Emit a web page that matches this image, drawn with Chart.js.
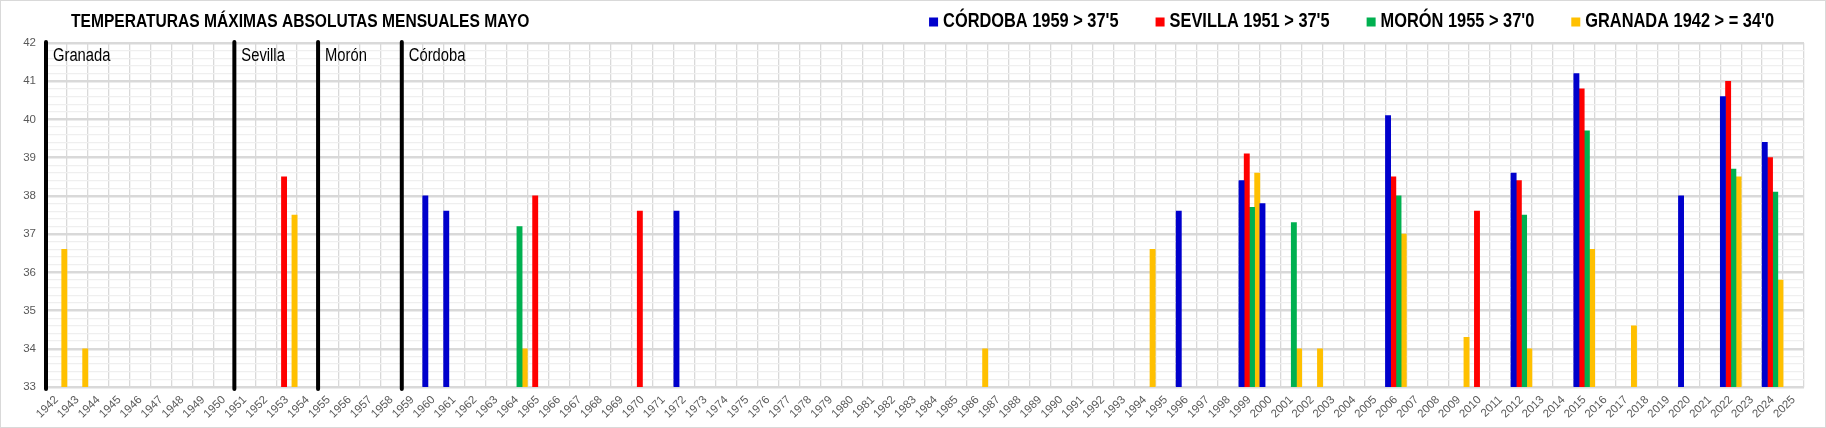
<!DOCTYPE html>
<html>
<head>
<meta charset="utf-8">
<script src="https://cdn.jsdelivr.net/npm/chart.js@4.4.1/dist/chart.umd.min.js"></script>
<style>
  html, body { margin: 0; padding: 0; background: #fff; }
  #wrap { width: 1826px; height: 428px; box-sizing: border-box; border: 1px solid #d9d9d9; }
  canvas { display: block; }
</style>
</head>
<body>
<div id="wrap"><canvas id="tmax" width="1824" height="426"></canvas></div>
<script>
const chartTitle = 'TEMPERATURAS MÁXIMAS ABSOLUTAS MENSUALES MAYO';

const years = [
  '1942','1943','1944','1945','1946','1947','1948','1949','1950','1951','1952','1953','1954','1955',
  '1956','1957','1958','1959','1960','1961','1962','1963','1964','1965','1966','1967','1968','1969',
  '1970','1971','1972','1973','1974','1975','1976','1977','1978','1979','1980','1981','1982','1983',
  '1984','1985','1986','1987','1988','1989','1990','1991','1992','1993','1994','1995','1996','1997',
  '1998','1999','2000','2001','2002','2003','2004','2005','2006','2007','2008','2009','2010','2011',
  '2012','2013','2014','2015','2016','2017','2018','2019','2020','2021','2022','2023','2024','2025'
];

// Córdoba  > 37'5 desde 1959
const cordobaYears = ['1960','1961','1972','1996','1999','2000','2006','2012','2015','2020','2022','2024'];
const cordobaTmax  = [38.0, 37.6, 37.6, 37.6, 38.4, 37.8, 40.1, 38.6, 41.2, 38.0, 40.6, 39.4];

// Sevilla > 37'5 desde 1951
const sevillaYears = ['1953','1965','1970','1999','2006','2010','2012','2015','2022','2024'];
const sevillaTmax  = [38.5, 38.0, 37.6, 39.1, 38.5, 37.6, 38.4, 40.8, 41.0, 39.0];

// Morón > 37'0 desde 1955
const moronYears = ['1964','1999','2001','2006','2012','2015','2022','2024'];
const moronTmax  = [37.2, 37.7, 37.3, 38.0, 37.5, 39.7, 38.7, 38.1];

// Granada >= 34'0 desde 1942
const granadaYears = ['1942','1943','1953','1964','1986','1994','1999','2001','2002','2006','2009','2012','2015','2017','2022','2024'];
const granadaTmax  = [36.6, 34.0, 37.5, 34.0, 34.0, 36.6, 38.6, 34.0, 34.0, 37.0, 34.3, 34.0, 36.6, 34.6, 38.5, 35.8];

// inicio de cada serie
const stationYears = ['1942','1951','1955','1959'];
const stationNames = ['Granada','Sevilla','Morón','Córdoba'];

const sansFamily = '"Liberation Sans", Arial, sans-serif';
const squeeze = 0.82; // no narrow font installed, so condense by hand

function pairs(ys, vs) {
  return ys.map((y, i) => ({ x: y, y: vs[i] }));
}

function isMajor(v) {
  return Math.abs(v - Math.round(v)) < 1e-6;
}

function narrowText(ctx, text, x, y, sx = squeeze) {
  ctx.save();
  ctx.translate(x, y);
  ctx.scale(sx, 1);
  ctx.fillText(text, 0, 0);
  ctx.restore();
}

const stationLines = {
  id: 'stationLines',
  afterDatasetsDraw(chart) {
    const { ctx, chartArea, scales: { x } } = chart;
    const step = x.getPixelForValue(1) - x.getPixelForValue(0);
    ctx.save();
    stationYears.forEach((yr, i) => {
      const px = x.getPixelForValue(years.indexOf(yr)) - step / 2;
      ctx.strokeStyle = '#000';
      ctx.lineWidth = 4;
      ctx.lineCap = 'round';
      ctx.beginPath();
      ctx.moveTo(px, chartArea.top - 1);
      ctx.lineTo(px, chartArea.bottom + 2);
      ctx.stroke();
      ctx.fillStyle = '#000';
      ctx.font = '18px ' + sansFamily;
      ctx.textAlign = 'left';
      ctx.textBaseline = 'alphabetic';
      narrowText(ctx, stationNames[i], px + 7, chartArea.top + 18);
    });
    ctx.restore();
  }
};

// title on the left, legend on the right, same row
const header = {
  id: 'header',
  afterDraw(chart) {
    const { ctx } = chart;
    const cy = 21;
    ctx.save();
    ctx.font = 'bold 19px ' + sansFamily;
    ctx.fillStyle = '#000';
    ctx.textAlign = 'left';
    ctx.textBaseline = 'middle';
    narrowText(ctx, chartTitle, 70, cy);

    const box = 9, gapText = 5, gapItem = 37, legSqueeze = 0.84;
    ctx.font = 'bold 19.5px ' + sansFamily;
    const items = chart.data.datasets.map(ds => ({
      text: ds.label, color: ds.backgroundColor, w: ctx.measureText(ds.label).width * legSqueeze
    }));
    const total = items.reduce((s, it) => s + box + gapText + it.w, 0) + gapItem * (items.length - 1);
    let cx = 1773 - total;
    items.forEach(it => {
      ctx.fillStyle = it.color;
      ctx.fillRect(cx, cy - box / 2, box, box);
      ctx.fillStyle = '#000';
      narrowText(ctx, it.text, cx + box + gapText, cy, legSqueeze);
      cx += box + gapText + it.w + gapItem;
    });
    ctx.restore();
  }
};

new Chart('tmax', {
  type: 'bar',
  data: {
    labels: years,
    datasets: [
      { label: "CÓRDOBA 1959 > 37'5", data: pairs(cordobaYears, cordobaTmax), backgroundColor: '#0000CC' },
      { label: "SEVILLA 1951 > 37'5", data: pairs(sevillaYears, sevillaTmax), backgroundColor: '#FF0000' },
      { label: "MORÓN 1955 > 37'0", data: pairs(moronYears, moronTmax), backgroundColor: '#00B050' },
      { label: "GRANADA 1942 > = 34'0", data: pairs(granadaYears, granadaTmax), backgroundColor: '#FFC000' }
    ]
  },
  options: {
    responsive: false,
    animation: false,
    devicePixelRatio: 1,
    layout: { padding: { top: 42, right: 21, bottom: 1, left: 0 } },
    datasets: { bar: { categoryPercentage: 1, barPercentage: 1, borderWidth: 0 } },
    plugins: {
      legend: { display: false },
      title: { display: false },
      tooltip: { enabled: false }
    },
    scales: {
      x: {
        grid: { color: '#d9d9d9', lineWidth: 1.3, drawTicks: false, offset: true },
        border: { color: '#d9d9d9', width: 1.3 },
        ticks: {
          autoSkip: false, minRotation: 45, maxRotation: 45, padding: 6,
          color: '#595959', font: { size: 11.5, family: sansFamily }
        },
        afterFit(s) { s.height = 39; }
      },
      y: {
        min: 33,
        max: 42,
        ticks: {
          stepSize: 0.2, autoSkip: false, padding: 10,
          color: '#595959', font: { size: 11.5, family: sansFamily },
          callback: v => isMajor(v) ? Math.round(v) : ''
        },
        grid: {
          drawTicks: false,
          color: c => isMajor(c.tick.value) ? '#d9d9d9' : '#efefef',
          lineWidth: c => isMajor(c.tick.value) ? 2.5 : 1.3
        },
        border: { display: false },
        afterFit(s) { s.width = 45; }
      }
    }
  },
  plugins: [stationLines, header]
});
</script>
</body>
</html>
